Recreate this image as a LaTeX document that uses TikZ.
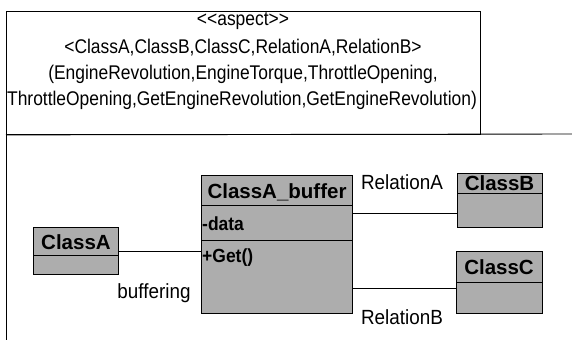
\documentclass[tikz,border=0pt]{standalone}
\usepackage{fontspec}
\setmainfont{Liberation Sans}
\newfontfamily\narrowfont[FakeStretch=0.88]{Liberation Sans}
\newfontfamily\labelfont[FakeStretch=0.92]{Liberation Sans}
\begin{document}
\begin{tikzpicture}[x=1pt,y=-1pt,
  frame/.style={draw=black,line width=0.9pt},
  cls/.style={draw=black,line width=1.2pt,fill=black!32,inner sep=0pt,anchor=north west},
  hdr/.style={font=\fontsize{20.5}{22}\selectfont\bfseries,inner sep=0pt},
  mem/.style={font=\labelfont\fontsize{19}{21}\selectfont\bfseries,inner sep=0pt,anchor=west},
  lbl/.style={font=\labelfont\fontsize{20.5}{22}\selectfont,inner sep=0pt},
  toptxt/.style={font=\narrowfont\fontsize{19.8}{22}\selectfont,inner sep=0pt},
  conn/.style={draw=black,line width=0.8pt}]
\useasboundingbox (0,0) rectangle (572,340);
% aspect frame
\node[frame,minimum width=474pt,minimum height=123pt,anchor=north west,inner sep=0pt] (asp) at (6,11) {};
\draw[frame] (asp.south west) -- (572,134);
\draw[frame] (asp.south west) -- (6,340);
\node[toptxt] (t1) at (243,21) {<{}<aspect>{}>};
\node[toptxt] (t2) at (243,48) {<ClassA,ClassB,ClassC,RelationA,RelationB>};
\node[toptxt] (t3) at (243,74) {(EngineRevolution,EngineTorque,ThrottleOpening,};
\node[toptxt] (t4) at (242,100) {ThrottleOpening,GetEngineRevolution,GetEngineRevolution)};
% ClassA
\node[cls,minimum width=85pt,minimum height=47pt] (cA) at (33,227) {};
\draw[line width=1pt] (33,255) -- (118,255);
\node[hdr] (cAt) at (76,242) {ClassA};
% ClassA_buffer
\node[cls,minimum width=151pt,minimum height=138pt] (buf) at (201,175) {};
\draw[line width=1pt] (201,205) -- (352,205);
\draw[line width=1pt] (201,240) -- (352,240);
\node[hdr] (buft) at (277,192) {ClassA\_buffer};
\node[mem] (bufd) at (202,224) {-data};
\node[mem] (bufg) at (202,258) {+Get()};
% ClassB
\node[cls,minimum width=85pt,minimum height=54pt] (cB) at (457,173) {};
\draw[line width=1pt] (457,193) -- (542,193);
\node[hdr] (cBt) at (499.5,183) {ClassB};
% ClassC
\node[cls,minimum width=86pt,minimum height=62pt] (cC) at (456,251) {};
\draw[line width=1pt] (456,282) -- (542,282);
\node[hdr] (cCt) at (499,267) {ClassC};
% connectors
\coordinate (ra) at (0,213);
\coordinate (rb) at (0,288);
\draw[conn] (cA.east) -- (cA.east -| buf.west);
\draw[conn] (buf.east |- ra) -- (cB.west |- ra);
\draw[conn] (buf.east |- rb) -- (cC.west |- rb);
% labels
\node[lbl] (lbuf) at (154,293) {buffering};
\node[lbl] (lra) at (402,182) {RelationA};
\node[lbl] (lrb) at (402,317) {RelationB};
\end{tikzpicture}
\end{document}
